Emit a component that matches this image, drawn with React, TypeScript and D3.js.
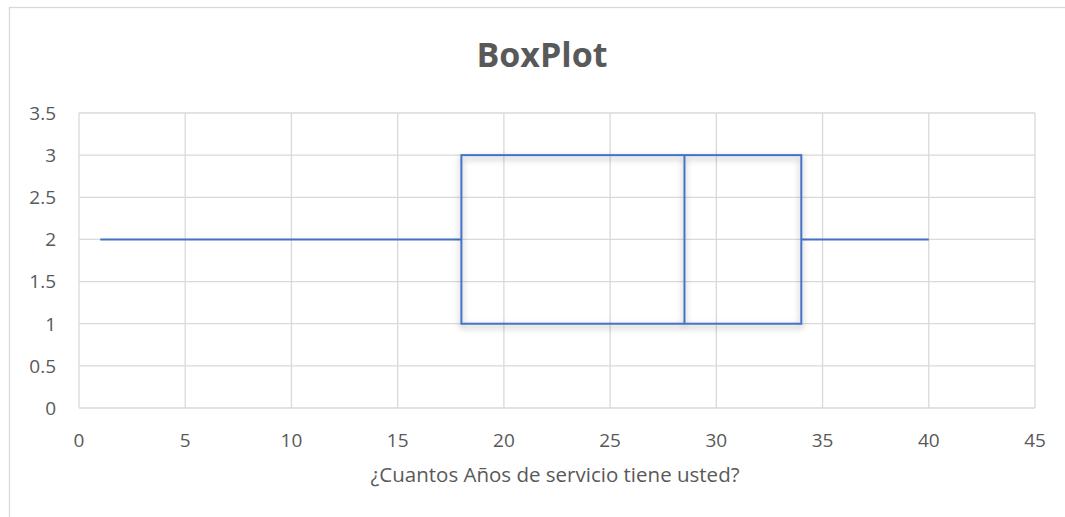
import React from "react";
import * as d3 from "d3";

// box plot summary
const statLabels = ["min", "q1", "median", "q3", "max"];
const statValues = [1, 18, 28.5, 34, 40];
const boxRange = [1, 3]; // vertical extent of the box
const whiskerLevel = 2;

const xTicks = [0, 5, 10, 15, 20, 25, 30, 35, 40, 45];
const yTicks = [0, 0.5, 1, 1.5, 2, 2.5, 3, 3.5];

const title = "BoxPlot";
const xTitle = "¿Cuantos Años de servicio tiene usted?";

const W = 1065;
const H = 517;
const plot = { left: 79, right: 1035, top: 113, bottom: 408 };
const font = "'Open Sans', 'Liberation Sans', sans-serif";
const blue = "#4472C4";
const grid = "#d9d9d9";
const textCol = "#595959";

export default function App() {
  const x = d3.scaleLinear().domain([0, 45]).range([plot.left, plot.right]);
  const y = d3.scaleLinear().domain([0, 3.5]).range([plot.bottom, plot.top]);

  const stat = (k: string) => statValues[statLabels.indexOf(k)];
  const [lo, hi] = boxRange;

  return (
    <svg
      width={W}
      height={H}
      style={{ position: "absolute", left: 0, top: 0, background: "#fff" }}
    >
      <defs>
        <filter id="shadow" x="-10%" y="-20%" width="130%" height="150%">
          <feDropShadow dx="0" dy="3" stdDeviation="3" floodColor="#000" floodOpacity="0.35" />
        </filter>
      </defs>

      {/* chart border */}
      <rect x={9.5} y={7.5} width={1070} height={520} fill="#fff" stroke={grid} strokeWidth={1.3} />

      <text
        x={542}
        y={67}
        textAnchor="middle"
        fontFamily={font}
        fontWeight="bold"
        fontSize={34}
        fill={textCol}
      >
        {title}
      </text>

      {/* gridlines */}
      {yTicks.map((t) => (
        <line key={"h" + t} x1={plot.left} x2={plot.right} y1={y(t)} y2={y(t)} stroke={grid} strokeWidth={1.3} />
      ))}
      {xTicks.map((t) => (
        <line key={"v" + t} x1={x(t)} x2={x(t)} y1={plot.top} y2={plot.bottom} stroke={grid} strokeWidth={1.3} />
      ))}

      {/* tick labels */}
      {yTicks.map((t) => (
        <text
          key={"yl" + t}
          x={56}
          y={y(t)}
          dy="0.36em"
          textAnchor="end"
          fontFamily={font}
          fontSize={19}
          fill={textCol}
        >
          {t}
        </text>
      ))}
      {xTicks.map((t) => (
        <text
          key={"xl" + t}
          x={x(t)}
          y={447}
          textAnchor="middle"
          fontFamily={font}
          fontSize={19}
          fill={textCol}
        >
          {t}
        </text>
      ))}

      <text x={555} y={482} textAnchor="middle" fontFamily={font} fontSize={20.5} fill={textCol}>
        {xTitle}
      </text>

      {/* whiskers */}
      <line x1={x(stat("min"))} x2={x(stat("q1"))} y1={y(whiskerLevel)} y2={y(whiskerLevel)} stroke={blue} strokeWidth={2} />
      <line x1={x(stat("q3"))} x2={x(stat("max"))} y1={y(whiskerLevel)} y2={y(whiskerLevel)} stroke={blue} strokeWidth={2} />

      {/* box + median */}
      <g filter="url(#shadow)">
        <rect
          x={x(stat("q1"))}
          y={y(hi)}
          width={x(stat("q3")) - x(stat("q1"))}
          height={y(lo) - y(hi)}
          fill="none"
          stroke={blue}
          strokeWidth={2}
        />
        <line x1={x(stat("median"))} x2={x(stat("median"))} y1={y(hi)} y2={y(lo)} stroke={blue} strokeWidth={2} />
      </g>
    </svg>
  );
}
